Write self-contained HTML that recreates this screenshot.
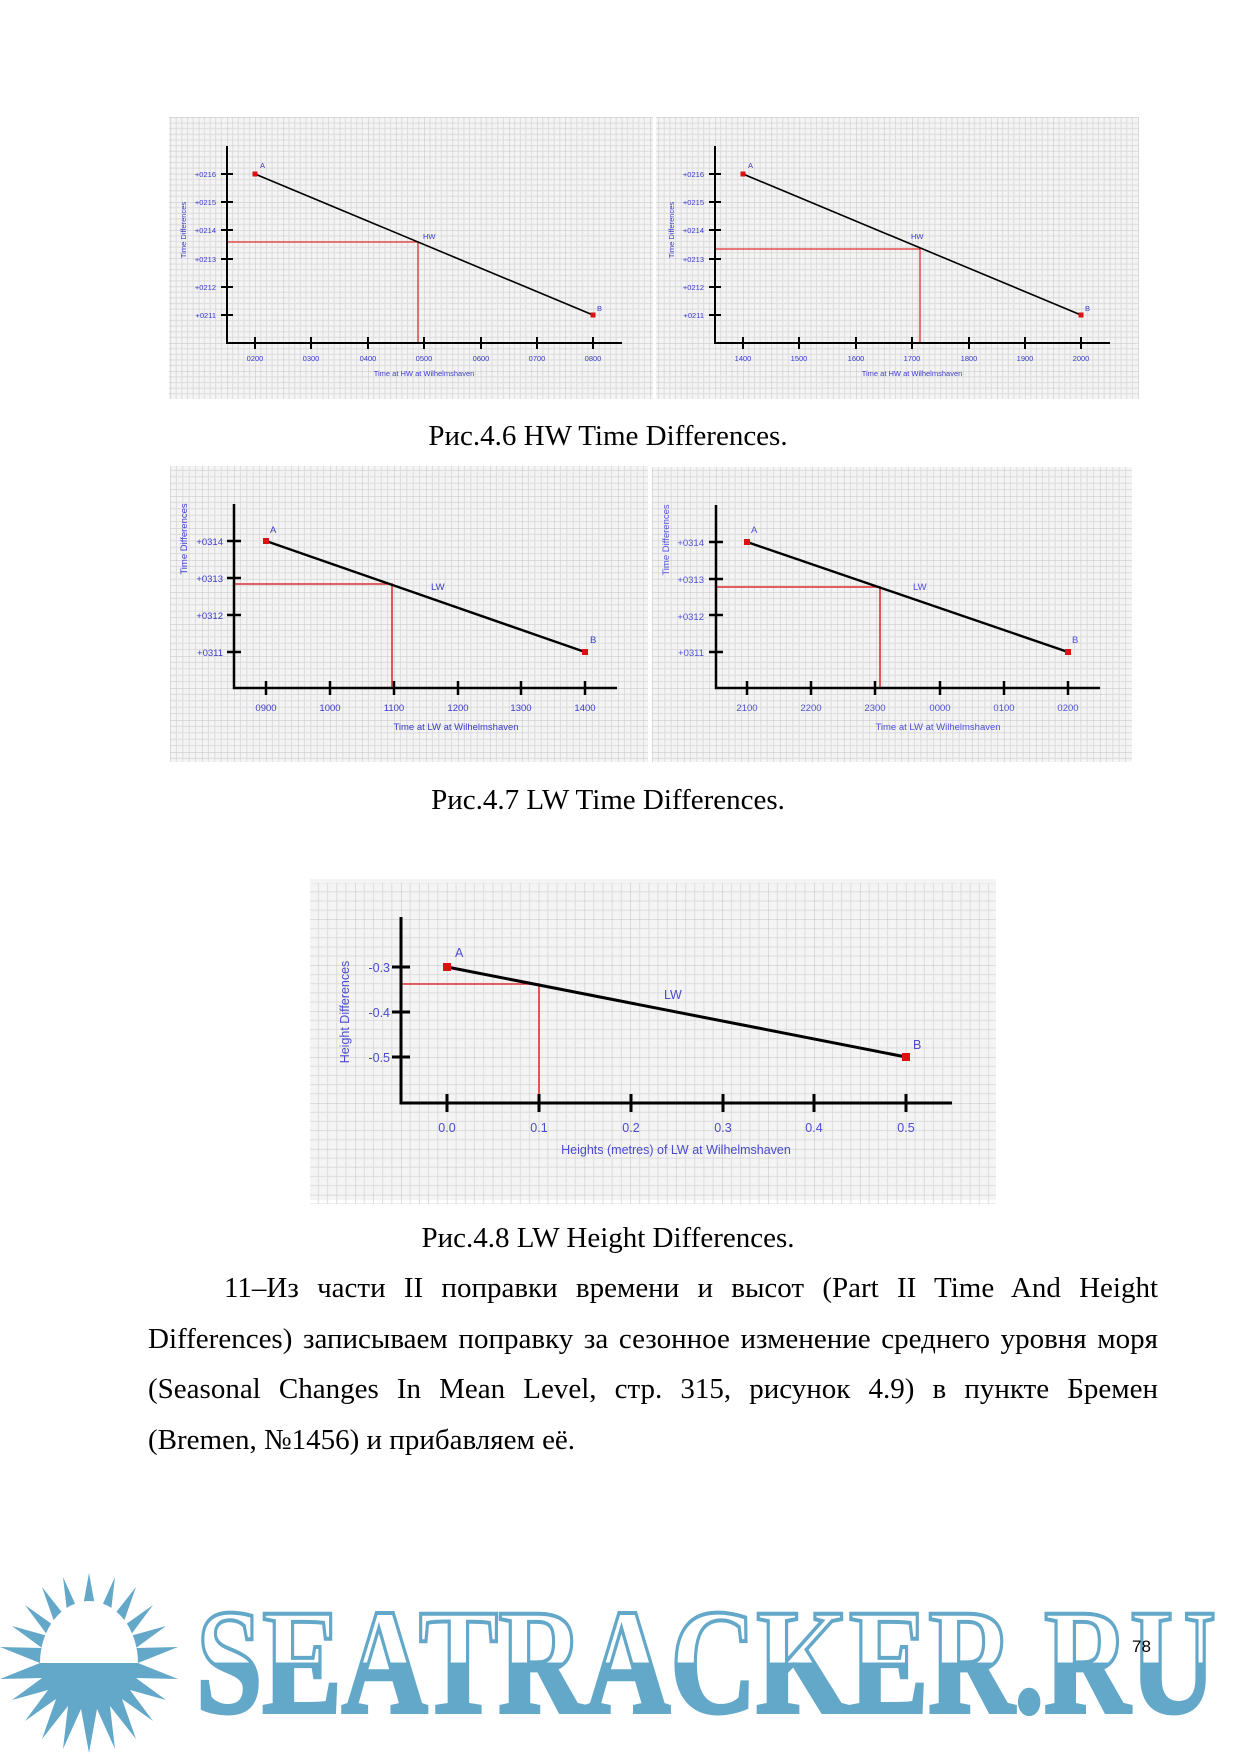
<!DOCTYPE html>
<html><head><meta charset="utf-8"><style>
body{margin:0;background:#fff;}
#pg{position:relative;width:1240px;height:1754px;overflow:hidden;background:#fff;font-family:"Liberation Serif",serif;color:#000;}
.cap{position:absolute;left:0;width:1216px;text-align:center;font-size:29px;line-height:32px;}
.pl{position:absolute;left:148px;width:1010px;font-size:29px;line-height:32px;text-align:justify;text-align-last:justify;white-space:nowrap;}
svg text{font-family:"Liberation Sans",sans-serif;}
</style></head><body><div id="pg">
<svg width="1240" height="1754" style="position:absolute;left:0;top:0">
<defs>
<pattern id="g1" x="227" y="343" width="28.2" height="28.2" patternUnits="userSpaceOnUse">
<path d="M5.64 0V28.2M11.28 0V28.2M16.92 0V28.2M22.56 0V28.2M0 5.64H28.2M0 11.28H28.2M0 16.92H28.2M0 22.56H28.2" stroke="#dcdcdc" stroke-width="1"/>
<path d="M0 0V28.2M0 0H28.2" stroke="#c2c2c2" stroke-width="1"/></pattern>
<pattern id="g2" x="715" y="343" width="28.2" height="28.2" patternUnits="userSpaceOnUse">
<path d="M5.64 0V28.2M11.28 0V28.2M16.92 0V28.2M22.56 0V28.2M0 5.64H28.2M0 11.28H28.2M0 16.92H28.2M0 22.56H28.2" stroke="#dcdcdc" stroke-width="1"/>
<path d="M0 0V28.2M0 0H28.2" stroke="#c2c2c2" stroke-width="1"/></pattern>
<pattern id="g3" x="234" y="688" width="32" height="32" patternUnits="userSpaceOnUse">
<path d="M6.4 0V32M12.8 0V32M19.2 0V32M25.6 0V32M0 6.4H32M0 12.8H32M0 19.2H32M0 25.6H32" stroke="#dcdcdc" stroke-width="1"/>
<path d="M0 0V32M0 0H32" stroke="#c2c2c2" stroke-width="1"/></pattern>
<pattern id="g4" x="716" y="688" width="32" height="32" patternUnits="userSpaceOnUse">
<path d="M6.4 0V32M12.8 0V32M19.2 0V32M25.6 0V32M0 6.4H32M0 12.8H32M0 19.2H32M0 25.6H32" stroke="#dcdcdc" stroke-width="1"/>
<path d="M0 0V32M0 0H32" stroke="#c2c2c2" stroke-width="1"/></pattern>
<pattern id="g5" x="401" y="1103" width="45.9" height="45.9" patternUnits="userSpaceOnUse">
<path d="M9.18 0V45.9M18.36 0V45.9M27.54 0V45.9M36.72 0V45.9M0 9.18H45.9M0 18.36H45.9M0 27.54H45.9M0 36.72H45.9" stroke="#dcdcdc" stroke-width="1"/>
<path d="M0 0V45.9M0 0H45.9" stroke="#c2c2c2" stroke-width="1"/></pattern>
<linearGradient id="lg" x1="0" y1="1610" x2="0" y2="1715" gradientUnits="userSpaceOnUse">
<stop offset="0.5" stop-color="#fff"/><stop offset="0.5" stop-color="#64a8c9"/></linearGradient>
</defs>

<!-- Chart 1 -->
<rect x="169" y="117" width="484" height="282" fill="#f4f4f4"/>
<rect x="169" y="117" width="484" height="282" fill="url(#g1)"/>
<g fill="#3a3acc" font-size="7.5">
<text x="216" y="177" text-anchor="end">+0216</text><text x="216" y="205" text-anchor="end">+0215</text>
<text x="216" y="233" text-anchor="end">+0214</text><text x="216" y="262" text-anchor="end">+0213</text>
<text x="216" y="290" text-anchor="end">+0212</text><text x="216" y="318" text-anchor="end">+0211</text>
<text x="255" y="361" text-anchor="middle">0200</text><text x="311" y="361" text-anchor="middle">0300</text>
<text x="368" y="361" text-anchor="middle">0400</text><text x="424" y="361" text-anchor="middle">0500</text>
<text x="481" y="361" text-anchor="middle">0600</text><text x="537" y="361" text-anchor="middle">0700</text>
<text x="593" y="361" text-anchor="middle">0800</text>
<text x="424" y="376" text-anchor="middle">Time at HW at Wilhelmshaven</text>
<text transform="translate(186,230) rotate(-90)" text-anchor="middle">Time Differences</text>
<text x="260" y="168">A</text><text x="597" y="311">B</text><text x="423" y="239">HW</text>
</g>
<path d="M227 242H418V343" stroke="#e03030" stroke-width="1.3" fill="none"/>
<path d="M227 146V343H622" stroke="#000" stroke-width="2" fill="none"/>
<path d="M221 174H233M221 202H233M221 230H233M221 259H233M221 287H233M221 315H233M255 337V349M311 337V349M368 337V349M424 337V349M481 337V349M537 337V349M593 337V349" stroke="#000" stroke-width="2"/>
<line x1="255" y1="174" x2="593" y2="315" stroke="#000" stroke-width="1.6"/>
<rect x="252.5" y="171.5" width="5" height="5" fill="#dd1111"/><rect x="590.5" y="312.5" width="5" height="5" fill="#dd1111"/>

<!-- Chart 2 -->
<rect x="656" y="117" width="483" height="282" fill="#f4f4f4"/>
<rect x="656" y="117" width="483" height="282" fill="url(#g2)"/>
<g fill="#3a3acc" font-size="7.5">
<text x="704" y="177" text-anchor="end">+0216</text><text x="704" y="205" text-anchor="end">+0215</text>
<text x="704" y="233" text-anchor="end">+0214</text><text x="704" y="262" text-anchor="end">+0213</text>
<text x="704" y="290" text-anchor="end">+0212</text><text x="704" y="318" text-anchor="end">+0211</text>
<text x="743" y="361" text-anchor="middle">1400</text><text x="799" y="361" text-anchor="middle">1500</text>
<text x="856" y="361" text-anchor="middle">1600</text><text x="912" y="361" text-anchor="middle">1700</text>
<text x="969" y="361" text-anchor="middle">1800</text><text x="1025" y="361" text-anchor="middle">1900</text>
<text x="1081" y="361" text-anchor="middle">2000</text>
<text x="912" y="376" text-anchor="middle">Time at HW at Wilhelmshaven</text>
<text transform="translate(674,230) rotate(-90)" text-anchor="middle">Time Differences</text>
<text x="748" y="168">A</text><text x="1085" y="311">B</text><text x="911" y="239">HW</text>
</g>
<path d="M715 249H920V343" stroke="#e03030" stroke-width="1.3" fill="none"/>
<path d="M715 146V343H1110" stroke="#000" stroke-width="2" fill="none"/>
<path d="M709 174H721M709 202H721M709 230H721M709 259H721M709 287H721M709 315H721M743 337V349M799 337V349M856 337V349M912 337V349M969 337V349M1025 337V349M1081 337V349" stroke="#000" stroke-width="2"/>
<line x1="743" y1="174" x2="1081" y2="315" stroke="#000" stroke-width="1.6"/>
<rect x="740.5" y="171.5" width="5" height="5" fill="#dd1111"/><rect x="1078.5" y="312.5" width="5" height="5" fill="#dd1111"/>

<!-- Chart 3 -->
<rect x="170" y="466" width="478" height="296" fill="#f4f4f4"/>
<rect x="170" y="466" width="478" height="296" fill="url(#g3)"/>
<g fill="#3a3acc" font-size="9.5">
<text x="223" y="545" text-anchor="end">+0314</text><text x="223" y="582" text-anchor="end">+0313</text>
<text x="223" y="619" text-anchor="end">+0312</text><text x="223" y="656" text-anchor="end">+0311</text>
<text x="266" y="711" text-anchor="middle">0900</text><text x="330" y="711" text-anchor="middle">1000</text>
<text x="394" y="711" text-anchor="middle">1100</text><text x="458" y="711" text-anchor="middle">1200</text>
<text x="521" y="711" text-anchor="middle">1300</text><text x="585" y="711" text-anchor="middle">1400</text>
<text x="456" y="730" text-anchor="middle">Time at LW at Wilhelmshaven</text>
<text transform="translate(187,539) rotate(-90)" text-anchor="middle">Time Differences</text>
<text x="270" y="533">A</text><text x="590" y="643">B</text><text x="431" y="590">LW</text>
</g>
<path d="M234 584H392V688" stroke="#e03030" stroke-width="1.6" fill="none"/>
<path d="M234 504V688H617" stroke="#000" stroke-width="2.5" fill="none"/>
<path d="M227 541H241M227 578H241M227 615H241M227 652H241M266 681V695M330 681V695M394 681V695M458 681V695M521 681V695M585 681V695" stroke="#000" stroke-width="2.5"/>
<line x1="266" y1="541" x2="585" y2="652" stroke="#000" stroke-width="2.4"/>
<rect x="263" y="538" width="6" height="6" fill="#dd1111"/><rect x="582" y="649" width="6" height="6" fill="#dd1111"/>

<!-- Chart 4 -->
<rect x="652" y="467" width="480" height="295" fill="#f4f4f4"/>
<rect x="652" y="467" width="480" height="295" fill="url(#g4)"/>
<g fill="#5050d8" font-size="9.5">
<text x="704" y="546" text-anchor="end">+0314</text><text x="704" y="583" text-anchor="end">+0313</text>
<text x="704" y="620" text-anchor="end">+0312</text><text x="704" y="656" text-anchor="end">+0311</text>
<text x="747" y="711" text-anchor="middle">2100</text><text x="811" y="711" text-anchor="middle">2200</text>
<text x="875" y="711" text-anchor="middle">2300</text><text x="940" y="711" text-anchor="middle">0000</text>
<text x="1004" y="711" text-anchor="middle">0100</text><text x="1068" y="711" text-anchor="middle">0200</text>
<text x="938" y="730" text-anchor="middle">Time at LW at Wilhelmshaven</text>
<text transform="translate(669,540) rotate(-90)" text-anchor="middle">Time Differences</text>
<text x="751" y="533">A</text><text x="1072" y="643">B</text><text x="913" y="590">LW</text>
</g>
<path d="M716 587H880V688" stroke="#e03030" stroke-width="1.6" fill="none"/>
<path d="M716 505V688H1100" stroke="#000" stroke-width="2.5" fill="none"/>
<path d="M709 542H723M709 579H723M709 615H723M709 652H723M747 681V695M811 681V695M875 681V695M940 681V695M1004 681V695M1068 681V695" stroke="#000" stroke-width="2.5"/>
<line x1="747" y1="542" x2="1068" y2="652" stroke="#000" stroke-width="2.4"/>
<rect x="744" y="539" width="6" height="6" fill="#dd1111"/><rect x="1065" y="649" width="6" height="6" fill="#dd1111"/>

<!-- Chart 5 -->
<g transform="translate(0,-4)">
<rect x="310" y="883" width="686" height="321" fill="#f4f4f4"/>
<rect x="310" y="883" width="686" height="321" fill="url(#g5)" transform="translate(0,4)" />
<g fill="#4a4ad0" font-size="12.5">
<text x="390" y="976" text-anchor="end">-0.3</text><text x="390" y="1021" text-anchor="end">-0.4</text>
<text x="390" y="1066" text-anchor="end">-0.5</text>
<text x="447" y="1136" text-anchor="middle">0.0</text><text x="539" y="1136" text-anchor="middle">0.1</text>
<text x="631" y="1136" text-anchor="middle">0.2</text><text x="723" y="1136" text-anchor="middle">0.3</text>
<text x="814" y="1136" text-anchor="middle">0.4</text><text x="906" y="1136" text-anchor="middle">0.5</text>
<text x="676" y="1158" text-anchor="middle">Heights (metres) of LW at Wilhelmshaven</text>
<text transform="translate(349,1016) rotate(-90)" text-anchor="middle">Height Differences</text>
<text x="455" y="961">A</text><text x="913" y="1053">B</text><text x="664" y="1003">LW</text>
</g>
<path d="M401 988H539V1107" stroke="#e03030" stroke-width="1.6" fill="none"/>
<path d="M401 921V1107H952" stroke="#000" stroke-width="3" fill="none"/>
<path d="M392 971H410M392 1016H410M392 1061H410M447 1098V1116M539 1098V1116M631 1098V1116M723 1098V1116M814 1098V1116M906 1098V1116" stroke="#000" stroke-width="3"/>
<line x1="447" y1="971" x2="906" y2="1061" stroke="#000" stroke-width="3"/>
<rect x="443" y="967" width="8" height="8" fill="#dd1111"/><rect x="902" y="1057" width="8" height="8" fill="#dd1111"/>
</g>

<!-- Logo -->
<g fill="#64a8c9">
<polygon points="89,1573 97,1617 115,1577 110,1620 136,1587 122,1627 153,1605 130,1636 166,1626 136,1648 178,1647 138,1663 178,1679 136,1678 166,1700 130,1690 153,1721 122,1699 136,1739 110,1706 115,1749 97,1709 89,1753 81,1709 63,1749 68,1706 42,1739 56,1699 25,1721 48,1690 12,1700 42,1678 0,1679 40,1663 0,1647 42,1648 12,1626 48,1636 25,1605 56,1627 42,1587 68,1620 63,1577 81,1617"/>
</g>
<path d="M40 1663A49 62 0 0 1 138 1663Z" fill="#fff"/>
<text x="196" y="1712" font-family="Liberation Serif,serif" font-weight="bold" font-size="150" textLength="1020" lengthAdjust="spacingAndGlyphs" fill="url(#lg)" stroke="#64a8c9" stroke-width="4" style="font-family:'Liberation Serif',serif">SEATRACKER.RU</text>
<text x="1132" y="1652" font-size="17" fill="#000">78</text>
</svg>

<div class="cap" style="top:420px">Рис.4.6 HW Time Differences.</div>
<div class="cap" style="top:784px">Рис.4.7 LW Time Differences.</div>
<div class="cap" style="top:1222px">Рис.4.8 LW Height Differences.</div>

<div class="pl" style="top:1272px;left:224px;width:934px">11–Из части II поправки времени и высот (Part II Time And Height</div>
<div class="pl" style="top:1323px">Differences) записываем поправку за сезонное изменение среднего уровня моря</div>
<div class="pl" style="top:1373px">(Seasonal Changes In Mean Level, стр. 315, рисунок 4.9) в пункте Бремен</div>
<div class="pl" style="top:1424px;text-align:left;text-align-last:left">(Bremen, №1456) и прибавляем её.</div>
</div></body></html>
